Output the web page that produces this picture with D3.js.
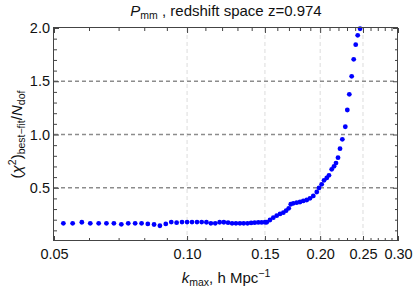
<!DOCTYPE html>
<html>
<head>
<meta charset="utf-8">
<script src="https://cdn.jsdelivr.net/npm/d3@7"></script>
<style>
  body { margin: 0; background: #fff; }
  svg { display: block; font-family: "Liberation Sans", Arial, sans-serif; }
  .axis path { display: none; }
  .axis line { stroke: #444; }
  .axis text { font-size: 14.5px; fill: #111; font-family: "Liberation Sans", Arial, sans-serif; }
</style>
</head>
<body>
<div class="chart"></div>
<script>
//data
const kValues = [
  0.0525, 0.0551, 0.0578, 0.0604, 0.0631, 0.0657, 0.0683, 0.0710, 0.0736, 0.0763,
  0.0789, 0.0815, 0.0842, 0.0868, 0.0895, 0.0921, 0.0947, 0.0974, 0.1000, 0.1026,
  0.1053, 0.1079, 0.1106, 0.1132, 0.1158, 0.1185, 0.1211, 0.1238, 0.1264, 0.1290,
  0.1317, 0.1343, 0.1370, 0.1396, 0.1422, 0.1449, 0.1475, 0.1501,
  0.1514, 0.1540, 0.1567, 0.1595, 0.1623, 0.1651, 0.1675, 0.1698, 0.1716, 0.1739,
  0.1770, 0.1801, 0.1832, 0.1865, 0.1897, 0.1930, 0.1965, 0.1988, 0.2016, 0.2041,
  0.2070, 0.2094, 0.2124, 0.2150, 0.2172, 0.2195, 0.2218, 0.2245, 0.2280, 0.2304,
  0.2328, 0.2357, 0.2382, 0.2407, 0.2432, 0.2462
];
const chiValues = [
  0.166, 0.166, 0.176, 0.166, 0.166, 0.166, 0.166, 0.157, 0.166, 0.166,
  0.166, 0.160, 0.155, 0.143, 0.160, 0.178, 0.172, 0.178, 0.178, 0.178,
  0.178, 0.178, 0.176, 0.166, 0.166, 0.176, 0.176, 0.172, 0.166, 0.166,
  0.166, 0.166, 0.166, 0.170, 0.172, 0.174, 0.174, 0.176,
  0.176, 0.197, 0.219, 0.238, 0.254, 0.266, 0.285, 0.307, 0.345, 0.354,
  0.360, 0.366, 0.376, 0.385, 0.401, 0.423, 0.460, 0.498, 0.532, 0.570,
  0.592, 0.617, 0.673, 0.701, 0.732, 0.782, 0.867, 0.955, 1.073, 1.230,
  1.377, 1.546, 1.706, 1.843, 1.931, 1.993
];

const xMajorTicks = [0.05, 0.10, 0.15, 0.20, 0.25, 0.30];
const xMinorTicks = [0.06, 0.07, 0.08, 0.09, 0.11, 0.12, 0.13, 0.14, 0.16, 0.17, 0.18, 0.19,
  0.21, 0.22, 0.23, 0.24, 0.26, 0.27, 0.28, 0.29];
const xGridTicks = [0.10, 0.15, 0.20, 0.25];
const yMajorTicks = [0.5, 1.0, 1.5, 2.0];
const yMinorTicks = [0.1, 0.2, 0.3, 0.4, 0.6, 0.7, 0.8, 0.9, 1.1, 1.2, 1.3, 1.4, 1.6, 1.7, 1.8, 1.9];
const yGridTicks = [0.5, 1.0, 1.5];

const WIDTH = 415;
const HEIGHT = 292;
const MARGIN = { top: 28, right: 17, bottom: 51, left: 54 };

const points = kValues.map((k, i) => ({ k: k, chi: chiValues[i] }));

/*-------------------- scales --------------------*/
const xScale = d3.scaleLog().domain([0.05, 0.30]).range([MARGIN.left, WIDTH - MARGIN.right]);
const yScale = d3.scaleLinear().domain([0, 2]).range([HEIGHT - MARGIN.bottom, MARGIN.top]);

const svg = d3.select(".chart").append("svg")
  .attr("width", WIDTH)
  .attr("height", HEIGHT);

//grid lines
svg.append("g").selectAll("line")
  .data(xGridTicks)
  .enter()
  .append("line")
  .attr("x1", d => xScale(d)).attr("x2", d => xScale(d))
  .attr("y1", MARGIN.top).attr("y2", HEIGHT - MARGIN.bottom)
  .attr("stroke", "#dcdcdc")
  .attr("stroke-width", 1)
  .attr("stroke-dasharray", "4,3");

svg.append("g").selectAll("line")
  .data(yGridTicks)
  .enter()
  .append("line")
  .attr("x1", MARGIN.left).attr("x2", WIDTH - MARGIN.right)
  .attr("y1", d => yScale(d)).attr("y2", d => yScale(d))
  .attr("stroke", "#8c8c8c")
  .attr("stroke-width", 1.5)
  .attr("stroke-dasharray", "4,3");

//points
svg.append("g").selectAll("circle")
  .data(points)
  .enter()
  .append("circle")
  .attr("cx", d => xScale(d.k))
  .attr("cy", d => yScale(d.chi))
  .attr("r", 2.4)
  .attr("fill", "#0000ff");

/*-------------------- frame + ticks --------------------*/
const fmt = d3.format(".2f");
const yfmt = d3.format(".1f");

function addAxis(axis, transform, labels) {
  const g = svg.append("g").attr("class", "axis").attr("transform", transform).call(axis);
  if (!labels) g.selectAll("text").remove();
  return g;
}

const bottomY = HEIGHT - MARGIN.bottom;
const rightX = WIDTH - MARGIN.right;

addAxis(d3.axisBottom(xScale).tickValues(xMajorTicks).tickSize(-5).tickPadding(8).tickFormat(fmt), `translate(0,${bottomY})`, true);
addAxis(d3.axisBottom(xScale).tickValues(xMinorTicks).tickSize(-3).tickFormat(""), `translate(0,${bottomY})`, false);
addAxis(d3.axisTop(xScale).tickValues(xMajorTicks).tickSize(-5), `translate(0,${MARGIN.top})`, false);
addAxis(d3.axisTop(xScale).tickValues(xMinorTicks).tickSize(-3), `translate(0,${MARGIN.top})`, false);

addAxis(d3.axisLeft(yScale).tickValues(yMajorTicks).tickSize(-5).tickPadding(4).tickFormat(yfmt), `translate(${MARGIN.left},0)`, true);
addAxis(d3.axisLeft(yScale).tickValues(yMinorTicks).tickSize(-3).tickFormat(""), `translate(${MARGIN.left},0)`, false);
addAxis(d3.axisRight(yScale).tickValues(yMajorTicks).tickSize(-5), `translate(${rightX},0)`, false);
addAxis(d3.axisRight(yScale).tickValues(yMinorTicks).tickSize(-3), `translate(${rightX},0)`, false);

svg.append("rect")
  .attr("x", MARGIN.left - 0.5)
  .attr("y", MARGIN.top - 0.5)
  .attr("width", rightX - MARGIN.left)
  .attr("height", bottomY - MARGIN.top)
  .attr("fill", "none")
  .attr("stroke", "#444")
  .attr("stroke-width", 1);

/*-------------------- labels --------------------*/
const title = svg.append("text")
  .attr("x", (MARGIN.left + rightX) / 2)
  .attr("y", 16)
  .attr("text-anchor", "middle")
  .attr("font-size", 15)
  .attr("fill", "#111");
title.append("tspan").attr("font-style", "italic").text("P");
title.append("tspan").attr("font-size", 10.5).attr("dy", 3).text("mm");
title.append("tspan").attr("dy", -3).text(" , redshift space z=0.974");

const xLabel = svg.append("text")
  .attr("x", (MARGIN.left + rightX) / 2)
  .attr("y", 283)
  .attr("text-anchor", "middle")
  .attr("font-size", 15)
  .attr("fill", "#111");
xLabel.append("tspan").attr("font-style", "italic").text("k");
xLabel.append("tspan").attr("font-size", 10.5).attr("dy", 3).text("max");
xLabel.append("tspan").attr("dy", -3).text(", h Mpc");
xLabel.append("tspan").attr("font-size", 10.5).attr("dy", -6).text("\u22121");

const yLabel = svg.append("text")
  .attr("transform", `translate(22,${(MARGIN.top + bottomY) / 2}) rotate(-90)`)
  .attr("text-anchor", "middle")
  .attr("font-size", 15)
  .attr("fill", "#111");
yLabel.append("tspan").text("(");
yLabel.append("tspan").attr("font-style", "italic").text("\u03c7");
yLabel.append("tspan").attr("font-size", 10.5).attr("dy", -6).text("2");
yLabel.append("tspan").attr("dy", 6).text(")");
yLabel.append("tspan").attr("font-size", 10.5).attr("dy", 3).text("best\u2212fit");
yLabel.append("tspan").attr("dy", -3).text("/");
yLabel.append("tspan").attr("font-style", "italic").text("N");
yLabel.append("tspan").attr("font-size", 10.5).attr("dy", 3).text("dof");
</script>
</body>
</html>
